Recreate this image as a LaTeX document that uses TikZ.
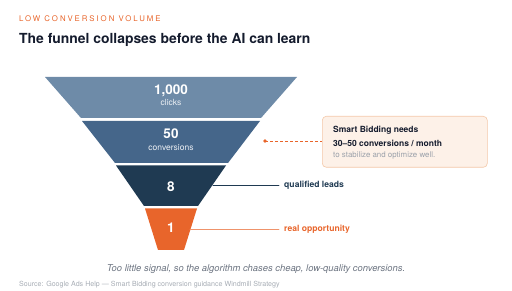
\documentclass[tikz,border=0pt]{standalone}
\usepackage{fontspec}
\setmainfont{TeX Gyre Heros}
\newfontfamily\kickerfont[LetterSpace=25]{TeX Gyre Heros}
\definecolor{layerA}{HTML}{6E8BA8}
\definecolor{layerB}{HTML}{45668A}
\definecolor{layerC}{HTML}{1F3A52}
\definecolor{accent}{HTML}{E8652B}
\definecolor{ink}{HTML}{141B2D}
\definecolor{muted}{HTML}{6B7380}
\definecolor{faint}{HTML}{A7ADB5}
\definecolor{notefill}{HTML}{FDF1E8}
\definecolor{noteline}{HTML}{F4C8A8}
\begin{document}
\begin{tikzpicture}[x=1pt,y=-1pt,line cap=round,line join=round,
  big/.style={anchor=base,inner sep=0pt,text=white,font=\bfseries\fontsize{13.5}{15}\selectfont},
  small/.style={anchor=base,inner sep=0pt,text=white!88!layerA,font=\fontsize{8.5}{10}\selectfont},
  tag/.style={anchor=base west,inner sep=0pt,font=\bfseries\fontsize{8.6}{10}\selectfont}]
  \useasboundingbox (0,0) rectangle (512,291);
  \node[anchor=base west,inner sep=0pt,text=accent,font=\kickerfont\fontsize{7.8}{9}\selectfont] (kicker) at (19,22) {LOW CONVERSION VOLUME};
  \node[anchor=base west,inner sep=0pt,text=ink,font=\bfseries\fontsize{13.9}{16}\selectfont] (title) at (19,43.5) {The funnel collapses before the AI can learn};
  \fill[layerA] (45,77) -- (297,77) -- (261,118) -- (81,118) -- cycle;
  \fill[layerB] (82,121) -- (260,121) -- (228,163) -- (115,163) -- cycle;
  \fill[layerC] (116,165.5) -- (226,165.5) -- (198,206) -- (144,206) -- cycle;
  \fill[accent] (145,208.5) -- (197,208.5) -- (184,250) -- (158,250) -- cycle;
  \node[big] (clicksnum) at (171,95) {1,000};
  \node[small] (clicks) at (171,106) {clicks};
  \node[big] (convnum) at (171,139) {50};
  \node[small] (conv) at (171,150.5) {conversions};
  \node[big] (leadsnum) at (171,192) {8};
  \node[big] (oppnum) at (171,233) {1};
  \node[draw=noteline,fill=notefill,rounded corners=4pt,line width=0.6pt,minimum width=165pt,minimum height=51pt,anchor=north west,inner sep=0pt] (note) at (322,116) {};
  \node[anchor=base west,inner sep=0pt,text=ink,font=\bfseries\fontsize{8.5}{10}\selectfont] (needs) at (333,132.7) {Smart Bidding needs};
  \node[anchor=base west,inner sep=0pt,text=ink,font=\bfseries\fontsize{8.5}{10}\selectfont] (range) at (333,146.3) {30–50 conversions / month};
  \node[anchor=base west,inner sep=0pt,text=faint!80!muted,font=\fontsize{7.9}{9}\selectfont] (why) at (333,158) {to stabilize and optimize well.};
  \fill[accent] (265,141) circle (1.8pt) coordinate (dot);
  \draw[accent,line width=0.9pt,line cap=butt,dash pattern=on 3pt off 2pt] (dot) -- (note.west |- dot);
  \coordinate (leadsedge) at (213,185);
  \coordinate (oppedge) at (190,229);
  \node[tag,text=layerC] (leads) at (284,188) {qualified leads};
  \node[tag,text=accent] (opp) at (284,232) {real opportunity};
  \draw[layerC,line width=0.7pt] (leadsedge) -- (279,185);
  \draw[accent!70!white,line width=0.7pt] (oppedge) -- (279,229);
  \node[anchor=base,inner sep=0pt,text=muted,font=\itshape\fontsize{9.4}{11}\selectfont] (caption) at (256,271.5) {Too little signal, so the algorithm chases cheap, low-quality conversions.};
  \node[anchor=base west,inner sep=0pt,text=faint,font=\fontsize{7.1}{8}\selectfont] (source) at (19,286.5) {Source: Google Ads Help — Smart Bidding conversion guidance Windmill Strategy};
\end{tikzpicture}
\end{document}
